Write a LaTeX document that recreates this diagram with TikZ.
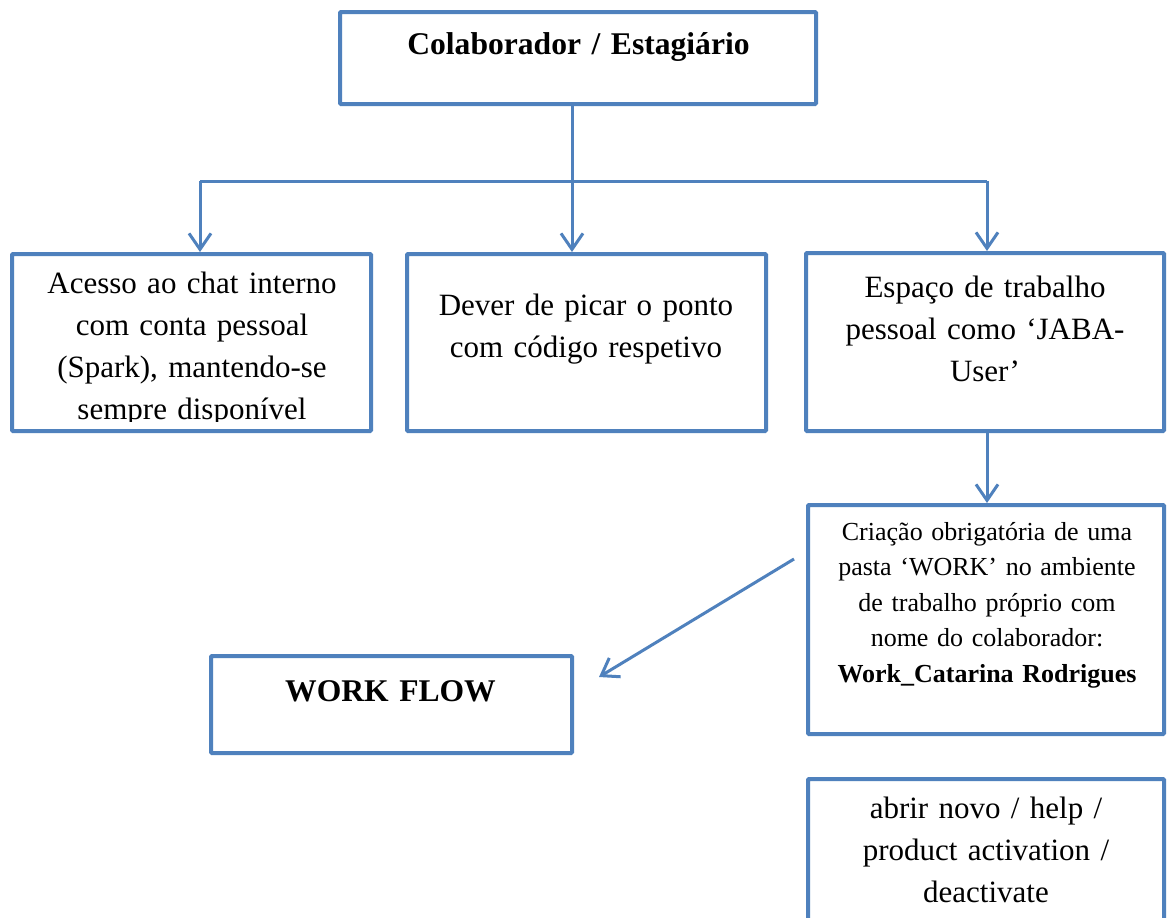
\documentclass[tikz,border=0pt]{standalone}
\usepackage{fontspec}
\setmainfont{Liberation Serif}
\usetikzlibrary{arrows.meta}
\definecolor{wblue}{RGB}{79,129,189}
\begin{document}
\begin{tikzpicture}[x=1pt,y=-1pt,
  box/.style={draw=wblue, line width=4pt, rectangle, inner sep=0pt, rounded corners=1pt},
  conn/.style={draw=wblue, line width=3pt},
  arr/.style={conn, -{Straight Barb[length=16pt,width=22pt,line width=3pt]}},
  txt/.style={text width=360pt, align=center, anchor=base, inner sep=0pt, font=\fontsize{31}{42.3}\selectfont},
  smalltxt/.style={txt, font=\fontsize{26}{35.5}\selectfont},
  boldtxt/.style={txt, font=\fontsize{31.6}{38}\selectfont\bfseries}
]
\useasboundingbox[fill=white] (0,0) rectangle (1167,918);

% boxes
\node[box, minimum width=476pt, minimum height=92pt] (top) at (578,58) {};
\node[box, minimum width=359pt, minimum height=177pt] (b1) at (191.5,342.5) {};
\node[box, minimum width=359pt, minimum height=177pt] (b2) at (586.5,342.5) {};
\node[box, minimum width=358pt, minimum height=178pt] (b3) at (985,342) {};
\node[box, minimum width=356pt, minimum height=229pt] (b4) at (986,619.5) {};
\node[box, minimum width=361pt, minimum height=97pt] (wf) at (391.5,704.5) {};
\node[box, minimum width=356pt, minimum height=146pt] (b6) at (986,852) {};

% texts
\node[boldtxt] (t0) at (578.5,54) {Colaborador / Estagiário};
\begin{scope}
  \clip (14,256) rectangle (369,421);
  \node[txt] (t1) at (192,293) {Acesso ao chat interno\\com conta pessoal\\(Spark), mantendo-se\\sempre disponível};
\end{scope}
\node[txt] (t2) at (586,315) {Dever de picar o ponto\\com código respetivo};
\node[txt] (t3) at (985,297) {Espaço de trabalho\\pessoal como ‘JABA-\\User’};
\node[smalltxt] (t4) at (987,540) {Criação obrigatória de uma\\pasta ‘WORK’ no ambiente\\de trabalho próprio com\\nome do colaborador:\\\textbf{Work\_Catarina Rodrigues}};
\node[boldtxt] (t5) at (390.5,701) {WORK FLOW};
\node[txt] (t6) at (986,818) {abrir novo / help /\\product activation /\\deactivate};

% connectors
\coordinate (j) at (572,181);
\coordinate (a1) at (200,181);
\coordinate (a3) at (987,181);
\draw[conn] (top.south -| j) -- (j);
\draw[conn] (a1) -- (a3);
\draw[arr] (j) -- (j |- b2.north);
\draw[arr] (a1) -- (a1 |- b1.north);
\draw[arr] (a3) -- (a3 |- b3.north);
\draw[arr] (b3.south -| a3) -- (a3 |- b4.north);
\coordinate (d0) at (794,559);
\coordinate (d1) at (599,677);
\draw[arr] (d0) -- (d1);
\end{tikzpicture}
\end{document}
